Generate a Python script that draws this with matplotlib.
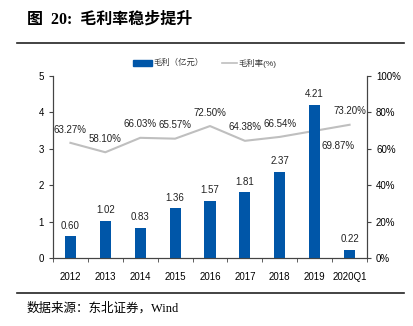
import numpy as np
import matplotlib.pyplot as plt
from matplotlib.lines import Line2D
from matplotlib.patches import Rectangle

plt.rcParams['font.family'] = ['Liberation Sans', 'Noto Sans CJK SC']

years = ['2012', '2013', '2014', '2015', '2016', '2017', '2018', '2019', '2020Q1']
profit = [0.60, 1.02, 0.83, 1.36, 1.57, 1.81, 2.37, 4.21, 0.22]
margin = [63.27, 58.10, 66.03, 65.57, 72.50, 64.38, 66.54, 69.87, 73.20]

blue = '#0056A8'
gray = '#BFBFBF'

fig = plt.figure(figsize=(4.13, 3.26), dpi=100)
W, H = 413, 326
ax = fig.add_axes([53 / W, 1 - 258 / H, (367 - 53) / W, (258 - 76) / H])
ax2 = ax.twinx()

x = np.arange(len(years))
ax.bar(x, profit, width=0.32, color=blue, zorder=2)
for xi, v in zip(x, profit):
    ax.annotate(f'{v:.2f}', (xi, v), xytext=(0, 4), textcoords='offset points',
                ha='center', va='bottom', fontsize=7, color='#222222')

ax2.plot(x, margin, color=gray, lw=1.5, zorder=1)
for xi, v, yr in zip(x, margin, years):
    if yr == '2019':
        ax2.annotate(f'{v:.2f}%', (xi, v), xytext=(5, -11), textcoords='offset points',
                     ha='left', va='center', fontsize=7, color='#222222',
                     arrowprops=dict(arrowstyle='-', color='#555555', lw=0.6,
                                     shrinkA=0, shrinkB=0,
                                     connectionstyle='angle,angleA=0,angleB=90'))
    else:
        ax2.annotate(f'{v:.2f}%', (xi, v), xytext=(0, 6), textcoords='offset points',
                     ha='center', va='bottom', fontsize=7, color='#222222')

ax.set_xlim(-0.5, len(years) - 0.5)
ax.set_ylim(0, 5)
ax2.set_ylim(0, 100)
ax.set_xticks(x)
ax.set_xticklabels(years, fontsize=7)
ax.set_xticks(np.arange(-0.5, len(years), 1), minor=True)
ax.tick_params(axis='x', which='major', length=0, pad=10)
ax.tick_params(axis='x', which='minor', length=3, direction='out', color='#444444')
ax.tick_params(axis='y', labelsize=7, length=3, color='#444444')
ax2.tick_params(axis='y', labelsize=7, length=3, color='#444444')
ax.set_yticks([0, 1, 2, 3, 4, 5])
ax2.set_yticks([0, 20, 40, 60, 80, 100])
ax2.set_yticklabels([f'{t}%' for t in [0, 20, 40, 60, 80, 100]])
for a in (ax, ax2):
    a.spines['top'].set_visible(False)
    for s in ('left', 'right', 'bottom'):
        a.spines[s].set_color('#444444')
        a.spines[s].set_linewidth(0.8)
ax.set_zorder(ax2.get_zorder() + 1)
ax.patch.set_visible(False)

# legend drawn by hand to match the reference spacing
ly = 1 - 63 / H
fig.add_artist(Rectangle((133 / W, ly - 2.5 / H), 19 / W, 5 / H, color=blue,
                         transform=fig.transFigure))
fig.text(153 / W, ly, '毛利（亿元）', fontsize=6, va='center', ha='left', color='#333333')
fig.add_artist(Line2D([222 / W, 237 / W], [ly, ly], color=gray, lw=1.2))
fig.text(238 / W, ly, '毛利率(%)', fontsize=6, va='center', ha='left', color='#333333')

fig.text(27 / W, 1 - 20 / H, '图  20:  毛利率稳步提升', fontsize=11.5, fontweight='bold',
         family=['Liberation Serif', 'Noto Sans CJK SC'], va='center', ha='left')
fig.add_artist(Line2D([17 / W, 404 / W], [1 - 43 / H, 1 - 43 / H], color='#222222', lw=1.2))
fig.add_artist(Line2D([17 / W, 404 / W], [1 - 293 / H, 1 - 293 / H], color='#222222', lw=1.2))
fig.text(27 / W, 1 - 308 / H, '数据来源：东北证券，Wind', fontsize=9,
         family=['Liberation Serif', 'Noto Sans CJK SC'], va='center', ha='left')

fig.savefig('out.png', dpi=100)
